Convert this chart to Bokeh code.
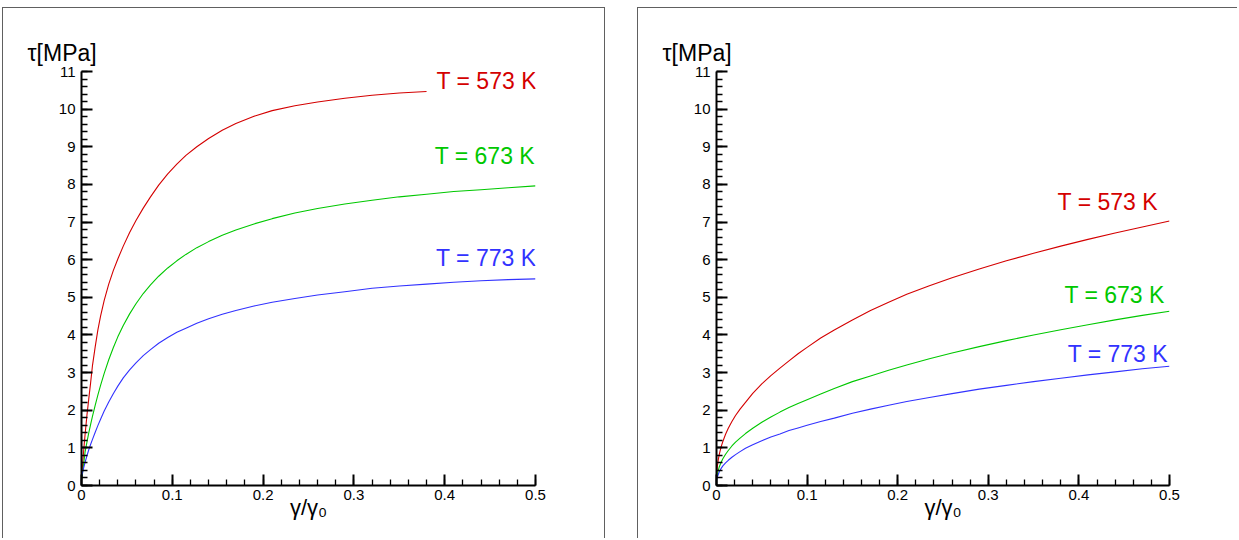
from bokeh.plotting import figure
from bokeh.models import Label, FixedTicker, Range1d
from bokeh.layouts import row
from bokeh.embed import file_html
from bokeh.resources import INLINE

FONT = "Liberation Sans"

# ---------------- data ----------------
x_ticks = [0, 0.1, 0.2, 0.3, 0.4, 0.5]
x_tick_labels = ["0", "0.1", "0.2", "0.3", "0.4", "0.5"]
y_ticks = [0, 1, 2, 3, 4, 5, 6, 7, 8, 9, 10, 11]
x_title = "γ/γ₀"
y_title = "τ[MPa]"

# left panel (gamma/gamma0, tau)
x_left = [0, 0.001, 0.002, 0.003, 0.004, 0.006, 0.008, 0.01, 0.012, 0.015,
          0.018, 0.021, 0.025, 0.03, 0.035, 0.04, 0.046, 0.053, 0.06, 0.068,
          0.076, 0.085, 0.095, 0.105, 0.115, 0.127, 0.14, 0.155, 0.17, 0.19,
          0.21, 0.235, 0.26, 0.29, 0.32, 0.35, 0.38, 0.41, 0.44, 0.47, 0.5]
left_573 = [0.15, 0.48, 0.8, 1.1, 1.37, 1.87, 2.3, 2.72, 3.17, 3.67,
            4.13, 4.5, 4.92, 5.35, 5.71, 6.02, 6.36, 6.72, 7.04, 7.37,
            7.67, 7.98, 8.28, 8.54, 8.77, 9.0, 9.22, 9.44, 9.62, 9.81,
            9.96, 10.09, 10.19, 10.29, 10.37, 10.43, 10.47]
left_673 = [0.15, 0.3, 0.5, 0.7, 0.9, 1.15, 1.4, 1.62, 1.83, 2.12,
            2.4, 2.66, 2.98, 3.34, 3.66, 3.95, 4.25, 4.56, 4.83, 5.1,
            5.33, 5.56, 5.78, 5.97, 6.14, 6.32, 6.48, 6.65, 6.79, 6.95,
            7.09, 7.24, 7.36, 7.48, 7.58, 7.67, 7.74, 7.81, 7.86, 7.91, 7.96]
left_773 = [0.22, 0.33, 0.43, 0.53, 0.62, 0.79, 0.95, 1.09, 1.22, 1.41,
            1.59, 1.76, 1.98, 2.22, 2.44, 2.64, 2.86, 3.07, 3.26, 3.45,
            3.61, 3.78, 3.93, 4.07, 4.18, 4.31, 4.43, 4.55, 4.65, 4.77,
            4.87, 4.97, 5.06, 5.15, 5.24, 5.3, 5.35, 5.4, 5.44, 5.47, 5.49]

# right panel
x_right = [0, 0.001, 0.002, 0.003, 0.005, 0.007, 0.01, 0.013, 0.017, 0.021,
           0.026, 0.032, 0.04, 0.05, 0.06, 0.07, 0.08, 0.09, 0.1, 0.115,
           0.13, 0.15, 0.17, 0.19, 0.21, 0.235, 0.26, 0.29, 0.32, 0.35,
           0.38, 0.41, 0.44, 0.47, 0.5]
right_573 = [0.2, 0.52, 0.69, 0.82, 1.02, 1.17, 1.36, 1.52, 1.7, 1.86,
             2.03, 2.21, 2.45, 2.7, 2.92, 3.12, 3.31, 3.5, 3.67, 3.92,
             4.13, 4.4, 4.65, 4.87, 5.08, 5.31, 5.52, 5.75, 5.97, 6.17,
             6.36, 6.54, 6.71, 6.87, 7.03]
right_673 = [0.15, 0.3, 0.41, 0.49, 0.61, 0.71, 0.83, 0.93, 1.05, 1.15,
             1.26, 1.38, 1.52, 1.68, 1.82, 1.95, 2.07, 2.18, 2.28, 2.43,
             2.58, 2.76, 2.91, 3.06, 3.2, 3.37, 3.52, 3.69, 3.85, 4.0,
             4.14, 4.27, 4.4, 4.52, 4.63]
right_773 = [0.15, 0.23, 0.3, 0.36, 0.45, 0.52, 0.6, 0.67, 0.75, 0.82,
             0.9, 0.99, 1.08, 1.19, 1.29, 1.37, 1.46, 1.53, 1.6, 1.7,
             1.79, 1.92, 2.03, 2.13, 2.23, 2.34, 2.44, 2.56, 2.66, 2.76,
             2.85, 2.94, 3.02, 3.1, 3.17]

series_names = ["T = 573 K", "T = 673 K", "T = 773 K"]
colors = ["#d40000", "#00c800", "#3232ff"]

BOX = "1px solid #606060"


def make_panel(xs, ys_list, label_pos, b_left, b_right, styles, margin):
    p = figure(frame_width=452, frame_height=413,
               x_range=Range1d(0, 0.5), y_range=Range1d(0, 11),
               min_border_left=b_left, min_border_right=b_right,
               min_border_top=63, min_border_bottom=54,
               output_backend="svg", toolbar_location=None,
               background_fill_color="white", border_fill_color="white",
               title=y_title)
    p.margin = margin
    p.grid.visible = False
    p.outline_line_color = None
    p.styles = styles

    p.title.text_font = FONT
    p.title.text_font_size = "23px"
    p.title.text_font_style = "normal"
    p.title.text_color = "black"
    p.title.align = "left"
    p.title.offset = -54
    p.title.standoff = 11

    for ax in (p.xaxis[0], p.yaxis[0]):
        ax.axis_line_width = 2
        ax.axis_line_color = "black"
        ax.major_tick_in = 11
        ax.major_tick_out = 0
        ax.minor_tick_in = 6
        ax.minor_tick_out = 0
        ax.major_tick_line_width = 2
        ax.minor_tick_line_width = 1.3
        ax.major_tick_line_color = "black"
        ax.minor_tick_line_color = "black"
        ax.major_label_text_font = FONT
        ax.major_label_text_font_size = "15px"
        ax.major_label_text_color = "black"

    p.xaxis.ticker = FixedTicker(ticks=x_ticks,
                                 minor_ticks=[round(0.02 * i, 2) for i in range(26)])
    p.xaxis.major_label_overrides = dict(zip(x_ticks, x_tick_labels))
    p.xaxis.major_label_standoff = 4
    p.xaxis.axis_label = x_title
    p.xaxis.axis_label_text_font = FONT
    p.xaxis.axis_label_text_font_size = "22px"
    p.xaxis.axis_label_text_font_style = "normal"
    p.xaxis.axis_label_text_color = "black"
    p.xaxis.axis_label_standoff = -8

    p.yaxis.ticker = FixedTicker(ticks=y_ticks,
                                 minor_ticks=[round(0.2 * i, 1) for i in range(56)])
    p.yaxis.major_label_standoff = 6

    for ys, c, name, (lx, ly) in zip(ys_list, colors, series_names, label_pos):
        p.line(xs[:len(ys)], ys, line_color=c, line_width=1.1)
        p.add_layout(Label(x=lx, y=ly, text=name, text_font=FONT,
                           text_font_size="23px", text_color=c,
                           text_baseline="middle"))
    return p


left_labels = [(0.391, 10.76), (0.389, 8.75), (0.3905, 6.05)]
right_labels = [(0.3765, 7.53), (0.384, 5.05), (0.3876, 3.49)]

p1 = make_panel(x_left, [left_573, left_673, left_773], left_labels, 78, 71,
                {"border-top": BOX, "border-left": BOX, "border-right": BOX},
                (7, 0, 0, 2))
p2 = make_panel(x_right, [right_573, right_673, right_773], right_labels, 78, 69,
                {"border-top": BOX, "border-left": BOX},
                (7, 0, 0, 0))

layout = row(p1, p2, spacing=32)
open("out.html", "w").write(file_html(layout, INLINE))
